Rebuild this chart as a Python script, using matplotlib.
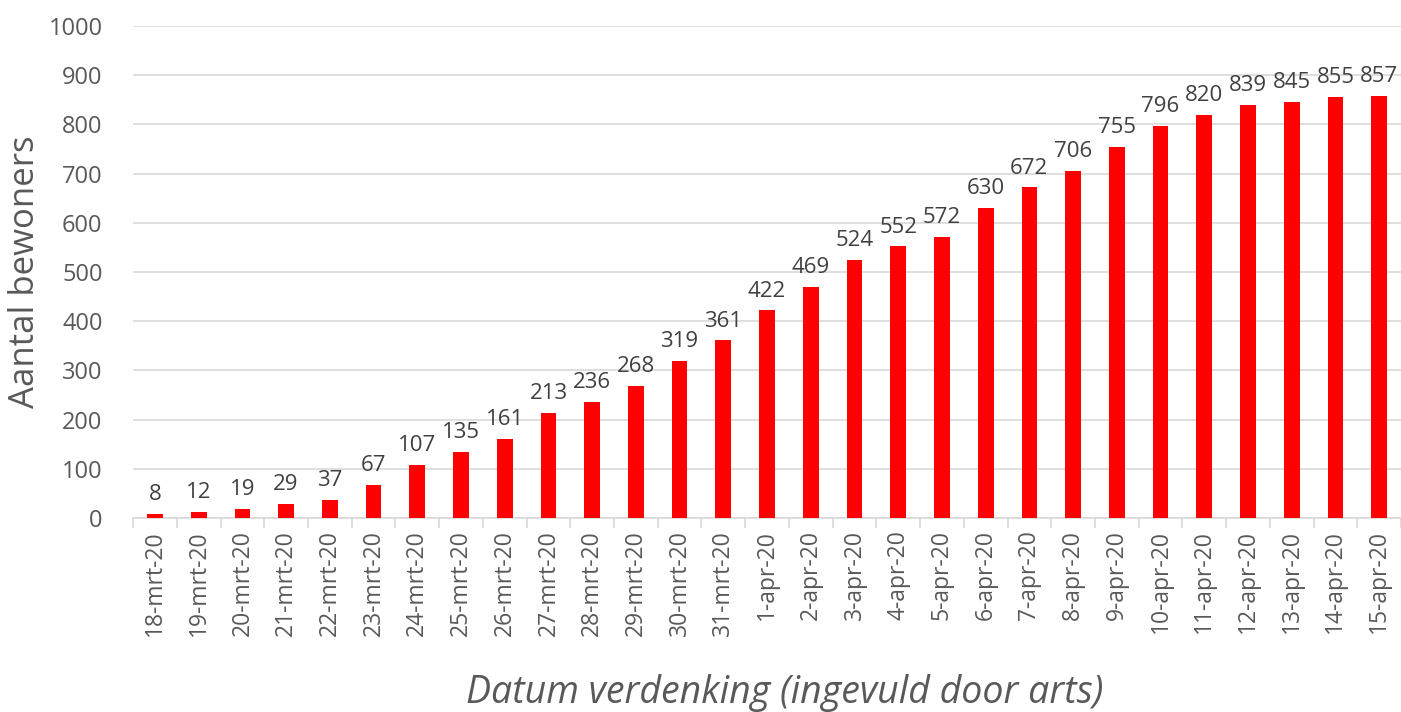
import numpy as np
import matplotlib.pyplot as plt

dates = ["18-mrt-20", "19-mrt-20", "20-mrt-20", "21-mrt-20", "22-mrt-20", "23-mrt-20",
         "24-mrt-20", "25-mrt-20", "26-mrt-20", "27-mrt-20", "28-mrt-20", "29-mrt-20",
         "30-mrt-20", "31-mrt-20", "1-apr-20", "2-apr-20", "3-apr-20", "4-apr-20",
         "5-apr-20", "6-apr-20", "7-apr-20", "8-apr-20", "9-apr-20", "10-apr-20",
         "11-apr-20", "12-apr-20", "13-apr-20", "14-apr-20", "15-apr-20"]
bewoners = [8, 12, 19, 29, 37, 67, 107, 135, 161, 213, 236, 268, 319, 361, 422, 469,
            524, 552, 572, 630, 672, 706, 755, 796, 820, 839, 845, 855, 857]

plt.rcParams["font.family"] = ["Open Sans", "DejaVu Sans"]
txt = "#595959"

fig = plt.figure(figsize=(14.01, 7.12), dpi=100)
ax = fig.add_axes([0.095, 0.2725, 0.905, 0.691])

x = np.arange(len(dates))
ax.bar(x, bewoners, width=0.36, color="#ff0000", zorder=3)
for xi, v in zip(x, bewoners):
    ax.text(xi, v + 18, str(v), ha="center", va="bottom", fontsize=16, color="#404040")

ax.set_xlim(-0.5, len(dates) - 0.5)
ax.set_ylim(0, 1000)
ax.set_yticks(np.arange(0, 1001, 100))
ax.yaxis.grid(True, color="#d9d9d9", lw=1.2, zorder=0)
ax.set_xticks(x)
ax.set_xticklabels(dates, rotation=90, fontsize=16.5, color=txt)
ax.set_xticks(np.arange(-0.5, len(dates)), minor=True)
ax.tick_params(axis="x", which="major", length=0, pad=9)
ax.tick_params(axis="x", which="minor", length=7, color="#d9d9d9", width=1.2)
ax.tick_params(axis="y", length=0, labelsize=17, labelcolor=txt, pad=22)

for s in ["top", "right", "left"]:
    ax.spines[s].set_visible(False)
ax.spines["bottom"].set_color("#d9d9d9")
ax.spines["bottom"].set_linewidth(1.2)

ax.set_ylabel("Aantal bewoners", fontsize=25, color=txt)
ax.yaxis.set_label_coords(-0.072, 0.5)
ax.set_xlabel("Datum verdenking (ingevuld door arts)", fontsize=27, color=txt,
              style="italic")
ax.xaxis.set_label_coords(0.514, -0.318)

fig.savefig("out.png", dpi=100)
